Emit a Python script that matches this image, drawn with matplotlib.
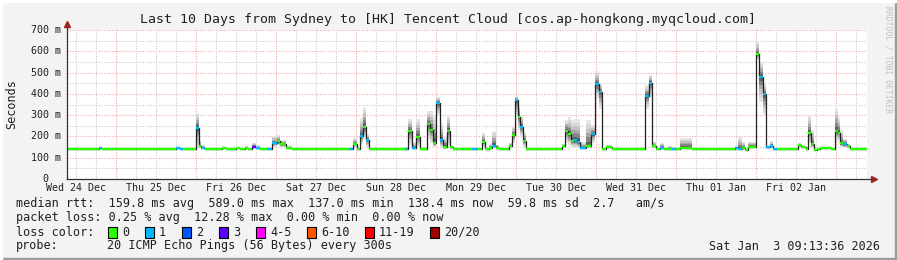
import matplotlib
matplotlib.use("Agg")
import matplotlib.pyplot as plt
import matplotlib.transforms as mtrans
from matplotlib.patches import Rectangle

# time axis = hours since Wed 24 Dec 00:00
t_start = 9.22
t_end = 249.22

# step samples: start hour, median rtt (ms), smoke top, smoke bottom, lost pings
hours = [9.2, 18.9, 19.8, 40.8, 42.0, 43.2, 44.1, 47.9, 48.8, 49.4,
         50.7, 55.8, 57.0, 60.0, 61.2, 62.7, 63.6, 64.8, 66.0, 67.2,
         69.3, 70.8, 72.3, 73.2, 75.0, 76.8, 93.9, 95.1, 96.3, 97.2,
         98.1, 99.0, 99.9, 110.7, 111.6, 112.8, 114.0, 115.2, 117.3, 118.2,
         119.1, 120.0, 121.2, 122.1, 123.3, 124.2, 125.1, 130.8, 132.6, 133.8,
         134.7, 135.9, 136.8, 138.0, 138.9, 141.9, 142.8, 143.7, 144.5, 145.2,
         146.1, 147.0, 157.8, 158.7, 159.6, 160.5, 161.4, 162.3, 163.2, 165.0,
         166.5, 167.7, 168.9, 169.8, 171.0, 172.8, 182.7, 183.9, 184.8, 186.0,
         187.2, 188.4, 189.6, 190.8, 192.0, 193.2, 196.8, 209.7, 210.6, 211.8,
         212.7, 213.6, 215.9, 216.9, 218.1, 219.0, 220.2, 221.1, 222.3, 228.6,
         229.5, 231.0, 231.6, 232.5, 233.4, 234.3, 235.2, 238.5, 239.7, 240.5,
         241.2, 242.1, 243.3, 244.2]
median = [140, 145, 140, 140, 145, 142, 140, 240, 155, 145,
          140, 145, 140, 147, 140, 147, 140, 152, 145, 140,
          140, 169, 178, 163, 147, 140, 140, 166, 140, 203,
          246, 183, 140, 140, 227, 145, 199, 140, 257, 230,
          171, 358, 183, 152, 227, 149, 140, 140, 140, 175,
          140, 147, 155, 147, 140, 155, 207, 371, 293, 246,
          180, 140, 155, 227, 211, 180, 183, 175, 144, 155,
          211, 446, 407, 140, 152, 140, 391, 453, 155, 140,
          147, 140, 143, 143, 140, 147, 140, 145, 140, 147,
          137, 152, 587, 481, 398, 149, 155, 140, 140, 160,
          152, 140, 215, 163, 137, 140, 147, 140, 227, 218,
          168, 163, 155, 140]
smoke_hi = [140, 147, 140, 148, 150, 146, 140, 310, 183, 160,
            140, 150, 140, 150, 140, 155, 140, 170, 158, 140,
            142, 202, 205, 183, 155, 140, 148, 194, 145, 287,
            340, 211, 140, 150, 282, 175, 282, 150, 321, 320,
            300, 387, 260, 200, 300, 160, 140, 142, 140, 217,
            145, 165, 227, 160, 140, 170, 246, 390, 350, 300,
            220, 140, 165, 277, 290, 277, 280, 280, 175, 277,
            253, 507, 450, 145, 160, 140, 440, 489, 175, 140,
            170, 140, 155, 150, 150, 193, 140, 155, 199, 175,
            140, 175, 648, 551, 450, 155, 178, 142, 140, 170,
            155, 140, 301, 230, 140, 140, 150, 140, 335, 290,
            230, 190, 165, 140]
smoke_lo = [140, 143, 140, 140, 142, 140, 140, 150, 145, 142,
            140, 142, 140, 142, 140, 142, 140, 145, 142, 140,
            138, 150, 155, 148, 142, 140, 138, 150, 140, 160,
            190, 150, 140, 138, 160, 140, 150, 140, 190, 170,
            150, 300, 150, 140, 160, 142, 140, 138, 140, 150,
            138, 142, 145, 142, 140, 145, 170, 290, 230, 200,
            150, 140, 145, 170, 160, 150, 145, 145, 140, 145,
            170, 380, 330, 138, 142, 140, 330, 380, 145, 140,
            142, 140, 140, 140, 140, 142, 140, 140, 138, 142,
            137, 145, 560, 360, 300, 142, 145, 140, 140, 150,
            145, 140, 170, 145, 137, 140, 142, 140, 175, 180,
            150, 145, 145, 140]
lost = [0, 1, 0, 0, 1, 1, 0, 1, 0, 1,
        0, 0, 0, 0, 0, 0, 0, 3, 1, 0,
        1, 1, 0, 0, 0, 0, 1, 0, 0, 1,
        0, 1, 0, 1, 0, 1, 0, 0, 0, 0,
        0, 1, 1, 0, 0, 0, 0, 1, 0, 0,
        0, 0, 1, 0, 0, 0, 0, 1, 0, 1,
        0, 0, 0, 0, 0, 0, 1, 1, 1, 0,
        1, 1, 1, 0, 0, 0, 1, 1, 0, 0,
        1, 0, 0, 1, 0, 0, 0, 1, 1, 0,
        0, 0, 0, 1, 1, 1, 1, 1, 0, 0,
        0, 0, 0, 0, 0, 0, 0, 0, 0, 0,
        0, 1, 0, 0]

day_labels = ["Wed 24 Dec", "Thu 25 Dec", "Fri 26 Dec", "Sat 27 Dec", "Sun 28 Dec",
              "Mon 29 Dec", "Tue 30 Dec", "Wed 31 Dec", "Thu 01 Jan", "Fri 02 Jan"]
y_ticks = [0, 100, 200, 300, 400, 500, 600, 700]
y_labels = ["0  ", "100 m", "200 m", "300 m", "400 m", "500 m", "600 m", "700 m"]

loss_names = ["0", "1", "2", "3", "4-5", "6-10", "11-19", "20/20"]
loss_colors = ["#26ff00", "#00b8ff", "#0059ff", "#5e00ff", "#ff00ff", "#ff5500", "#ff0000", "#a10000"]
loss_index = {0: 0, 1: 1, 2: 2, 3: 3}

title = "Last 10 Days from Sydney to [HK] Tencent Cloud [cos.ap-hongkong.myqcloud.com]"
line_rtt = "median rtt:  159.8 ms avg  589.0 ms max  137.0 ms min  138.4 ms now  59.8 ms sd  2.7   am/s"
line_loss = "packet loss: 0.25 % avg  12.28 % max  0.00 % min  0.00 % now"
probe_txt = "20 ICMP Echo Pings (56 Bytes) every 300s"
stamp = "Sat Jan  3 09:13:36 2026"

W, H = 897, 260
MONO = "DejaVu Sans Mono"
plt.rcParams['font.family'] = MONO

fig = plt.figure(figsize=(W / 100, H / 100), dpi=100, facecolor="#f3f3f3")
ax = fig.add_axes([67 / W, (H - 179) / H, 800 / W, 149 / H])
ax.set_facecolor("white")
ax.set_xlim(t_start, t_end)
ax.set_ylim(0, 700)
for s in ax.spines.values():
    s.set_visible(False)
ax.set_xticks([])
ax.set_yticks([])

# grid
for v in range(50, 701, 50):
    col = "#f2a0a0" if v % 100 == 0 else "#c8c8c8"
    ax.axhline(v, color=col, lw=0.75, ls=(0, (1, 1.5)), zorder=1)
for hh in range(0, 252, 6):
    if t_start < hh < t_end:
        col = "#f2a0a0" if hh % 24 == 0 else "#c8c8c8"
        ax.axvline(hh, color=col, lw=0.75, ls=(0, (1, 1.5)), zorder=1)

# smoke
tt = hours + [t_end]
def ext(a):
    return a + [a[-1]]
greys = ["#e6e6e6", "#d6d6d6", "#c2c2c2", "#a6a6a6", "#858585", "#5e5e5e"]
nb = len(greys)
for k in range(nb):
    f = 1 - k / nb
    up = [m + (h - m) * f for m, h in zip(median, smoke_hi)]
    dn = [m - (m - l) * f for m, l in zip(median, smoke_lo)]
    ax.fill_between(tt, ext(dn), ext(up), step="post", color=greys[k], lw=0, zorder=2)

# median line and loss-coloured segments
ax.step(tt, ext(median), where="post", color="#202020", lw=0.9, zorder=3)
seg_cols = [loss_colors[loss_index[l]] for l in lost]
ax.hlines(median, hours, tt[1:], colors=seg_cols, lw=1.7, zorder=4)

# axes with arrows
ax.plot([t_start, t_end + 1.2], [0, 0], color="#303030", lw=0.9, clip_on=False, zorder=5)
ax.plot([t_start, t_start], [0, 725], color="#303030", lw=0.9, clip_on=False, zorder=5)
ax.plot([t_end + 2.0], [0], marker=">", color="#a02020", ms=4.5, clip_on=False, zorder=6)
ax.plot([t_start], [728], marker="^", color="#a02020", ms=4.5, clip_on=False, zorder=6)

# tick labels
ty = mtrans.blended_transform_factory(fig.transFigure, ax.transData)
for v, lab in zip(y_ticks, y_labels):
    fig.text(61 / W, v, lab, transform=ty, ha="right", va="center", fontsize=7.2, color="#202020")
tx = mtrans.blended_transform_factory(ax.transData, fig.transFigure)
for i, lab in enumerate(day_labels):
    fig.text(24 * i + 12, 1 - 188 / H, lab, transform=tx, ha="center", va="center",
             fontsize=7.2, color="#202020")

fig.text(448 / W, 1 - 19 / H, title, ha="center", va="center", fontsize=9.5, color="#202020")
fig.text(12 / W, 1 - 104 / H, "Seconds", rotation=90, ha="center", va="center", fontsize=8.5, color="#202020")
fig.text(888 / W, 1 - 60 / H, "RRDTOOL / TOBI OETIKER", rotation=270, ha="center", va="center",
         fontsize=5.8, color="#c0c0c0")

# legend
fig.text(16 / W, 1 - 204 / H, line_rtt, ha="left", va="center", fontsize=8.5, color="#202020")
fig.text(16 / W, 1 - 218 / H, line_loss, ha="left", va="center", fontsize=8.5, color="#202020")
fig.text(16 / W, 1 - 232 / H, "loss color:", ha="left", va="center", fontsize=8.5, color="#202020")
sq_x = [108, 145, 182, 219, 256, 307, 365, 430]
for x0, nm, c in zip(sq_x, loss_names, loss_colors):
    fig.patches.append(Rectangle((x0 / W, 1 - 238 / H), 9 / W, 11 / H, transform=fig.transFigure,
                                 facecolor=c, edgecolor="black", lw=0.8))
    fig.text((x0 + 14) / W, 1 - 232 / H, nm, ha="left", va="center", fontsize=8.5, color="#202020")
fig.text(16 / W, 1 - 246 / H, "probe:", ha="left", va="center", fontsize=8.5, color="#202020")
fig.text(107 / W, 1 - 246 / H, probe_txt, ha="left", va="center", fontsize=8.5, color="#202020")
fig.text(880 / W, 1 - 246 / H, stamp, ha="right", va="center", fontsize=8.5, color="#202020")

# 3d frame
fig.patches.append(Rectangle((0, 0), 1, 2 / H, transform=fig.transFigure, color="#9c9c9c"))
fig.patches.append(Rectangle((1 - 2 / W, 0), 2 / W, 1, transform=fig.transFigure, color="#9c9c9c"))
fig.patches.append(Rectangle((0, 1 - 2 / H), 1, 2 / H, transform=fig.transFigure, color="#ffffff"))
fig.patches.append(Rectangle((0, 0), 2 / W, 1, transform=fig.transFigure, color="#ffffff"))

fig.savefig("out.png", dpi=100, facecolor=fig.get_facecolor())
